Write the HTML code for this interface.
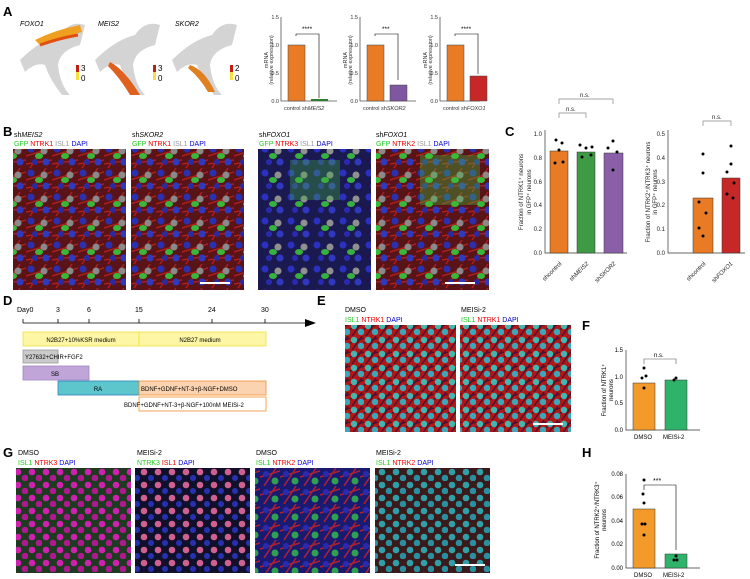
<!DOCTYPE html>
<html><head><meta charset="utf-8"><style>
body{margin:0;background:#fff}
svg{display:block;font-family:"Liberation Sans",Arial,sans-serif}
</style></head><body>
<svg width="750" height="579" viewBox="0 0 750 579" xmlns="http://www.w3.org/2000/svg">
<defs>
<pattern id="pB" width="26" height="24" patternUnits="userSpaceOnUse">
<rect width="26" height="24" fill="#5a1418"/>
<path d="M0 12 L26 4 M4 24 L20 0 M0 20 L26 16" stroke="#b82020" stroke-width="1.2"/>
<circle cx="5" cy="5" r="3.5" fill="#2a30b0"/><circle cx="20" cy="18" r="3.5" fill="#3038c0"/><circle cx="9" cy="18" r="3" fill="#2a2aa0"/>
<circle cx="18" cy="7" r="3.5" fill="#8a8a8a"/>
<ellipse cx="13" cy="12" rx="4" ry="3" fill="#38b838"/></pattern>
<pattern id="pB3" width="26" height="24" patternUnits="userSpaceOnUse">
<rect width="26" height="24" fill="#1a1a50"/>
<circle cx="5" cy="5" r="3.5" fill="#2a30c0"/><circle cx="20" cy="18" r="3.5" fill="#3038c0"/><circle cx="9" cy="18" r="3" fill="#2a2ab0"/>
<circle cx="18" cy="7" r="3.5" fill="#909090"/>
<ellipse cx="13" cy="12" rx="4" ry="3" fill="#38b040"/></pattern>
<pattern id="pE" width="14" height="14" patternUnits="userSpaceOnUse">
<rect width="14" height="14" fill="#b01818"/><path d="M0 7 L14 2 M2 14 L12 0" stroke="#501030" stroke-width="1.5"/>
<circle cx="4" cy="4" r="3.2" fill="#40b8b0"/><circle cx="11" cy="10" r="3.2" fill="#3aa8b8"/></pattern>
<pattern id="pG1" width="14" height="13" patternUnits="userSpaceOnUse">
<rect width="14" height="13" fill="#1e3a20"/><circle cx="4" cy="4" r="3.3" fill="#d020b0"/><circle cx="11" cy="10" r="3.3" fill="#b01890"/></pattern>
<pattern id="pG2" width="14" height="13" patternUnits="userSpaceOnUse">
<rect width="14" height="13" fill="#10102a"/><circle cx="4" cy="4" r="3.3" fill="#d06090"/><circle cx="11" cy="10" r="3" fill="#2830b0"/></pattern>
<pattern id="pG3" width="20" height="18" patternUnits="userSpaceOnUse">
<rect width="20" height="18" fill="#1a1a70"/><path d="M0 9 L20 3 M4 18 L16 0" stroke="#b02030" stroke-width="1.5"/>
<circle cx="6" cy="6" r="3" fill="#2a2ab0"/><circle cx="15" cy="13" r="3.5" fill="#30a050"/></pattern>
<pattern id="pG4" width="14" height="13" patternUnits="userSpaceOnUse">
<rect width="14" height="13" fill="#3a1a1a"/><circle cx="4" cy="4" r="3.3" fill="#30a0a8"/><circle cx="11" cy="10" r="3.3" fill="#2890a0"/></pattern>
</defs>
<g font-size="7" fill="#000">
<!-- A -->
<text x="3" y="16" font-size="13" font-weight="bold">A</text>
<g font-style="italic" font-size="7"><text x="20" y="26">FOXO1</text><text x="98" y="26">MEIS2</text><text x="175" y="26">SKOR2</text></g>
<g fill="#d4d4d4">
<path d="M20 60 Q40 40 60 35 Q70 20 85 25 L80 45 Q60 50 58 65 Q60 85 70 95 L62 95 Q50 80 45 65 Q35 62 25 72 Z"/>
<path d="M95 60 Q115 40 135 35 Q145 20 160 25 L155 45 Q135 50 133 65 Q135 85 145 95 L137 95 Q125 80 120 65 Q110 62 100 72 Z"/>
<path d="M172 60 Q192 40 212 35 Q222 20 237 25 L232 45 Q212 50 210 65 Q212 85 222 95 L214 95 Q202 80 197 65 Q187 62 177 72 Z"/>
</g>
<path d="M35 40 Q55 30 80 25 L82 32 Q60 38 40 45 Z" fill="#f0a020"/><path d="M40 45 Q60 38 78 35" stroke="#e05010" stroke-width="3" fill="none"/>
<path d="M110 62 Q125 70 140 95 L130 95 Q120 78 108 66 Z" fill="#e06020"/>
<path d="M190 65 Q205 70 215 92 L208 92 Q200 78 188 68Z" fill="#e08020"/>
<rect x="76" y="65" width="3" height="14" fill="#c02010"/><rect x="76" y="72" width="3" height="8" fill="#f8e040"/><text x="81" y="71" font-size="8">3</text><text x="81" y="81" font-size="8">0</text>
<rect x="153" y="65" width="3" height="14" fill="#c02010"/><rect x="153" y="72" width="3" height="8" fill="#f8e040"/><text x="158" y="71" font-size="8">3</text><text x="158" y="81" font-size="8">0</text>
<rect x="230" y="65" width="3" height="14" fill="#c02010"/><rect x="230" y="72" width="3" height="8" fill="#f8e040"/><text x="235" y="71" font-size="8">2</text><text x="235" y="81" font-size="8">0</text>
<!-- A bar charts -->
<g font-size="5.5" fill="#333">
<g transform="translate(281,0)">
<path d="M0 17 V101 H56" stroke="#555" fill="none" stroke-width=".8"/>
<text x="-2" y="19" text-anchor="end">1.5</text><text x="-2" y="47" text-anchor="end">1.0</text><text x="-2" y="75" text-anchor="end">0.5</text><text x="-2" y="103" text-anchor="end">0.0</text>
<rect x="7" y="45" width="17" height="56" fill="#e87b24" stroke="#444" stroke-width=".5"/>
<rect x="30" y="99" width="17" height="2" fill="#2e7d32"/>
<path d="M15 36 V34 H38 V98" stroke="#000" fill="none" stroke-width=".6"/><text x="21" y="31" font-size="6.5" fill="#000">****</text>
<text x="3" y="110">control sh<tspan font-style="italic">MEIS2</tspan></text>
<text transform="translate(-13,60) rotate(-90)" text-anchor="middle">mRNA</text><text transform="translate(-8,60) rotate(-90)" text-anchor="middle">(relative expression)</text>
</g>
<g transform="translate(360,0)">
<path d="M0 17 V101 H56" stroke="#555" fill="none" stroke-width=".8"/>
<text x="-2" y="19" text-anchor="end">1.5</text><text x="-2" y="47" text-anchor="end">1.0</text><text x="-2" y="75" text-anchor="end">0.5</text><text x="-2" y="103" text-anchor="end">0.0</text>
<rect x="7" y="45" width="17" height="56" fill="#e87b24" stroke="#444" stroke-width=".5"/>
<rect x="30" y="85" width="17" height="16" fill="#7e57a0" stroke="#444" stroke-width=".5"/>
<path d="M15 36 V34 H38 V80" stroke="#000" fill="none" stroke-width=".6"/><text x="22" y="31" font-size="6.5" fill="#000">***</text>
<text x="3" y="110">control sh<tspan font-style="italic">SKOR2</tspan></text>
<text transform="translate(-13,60) rotate(-90)" text-anchor="middle">mRNA</text><text transform="translate(-8,60) rotate(-90)" text-anchor="middle">(relative expression)</text>
</g>
<g transform="translate(440,0)">
<path d="M0 17 V101 H40" stroke="#555" fill="none" stroke-width=".8"/>
<text x="-2" y="19" text-anchor="end">1.5</text><text x="-2" y="47" text-anchor="end">1.0</text><text x="-2" y="75" text-anchor="end">0.5</text><text x="-2" y="103" text-anchor="end">0.0</text>
<rect x="7" y="45" width="17" height="56" fill="#e87b24" stroke="#444" stroke-width=".5"/>
<rect x="30" y="76" width="17" height="25" fill="#c62828" stroke="#444" stroke-width=".5"/>
<path d="M15 36 V34 H38 V74" stroke="#000" fill="none" stroke-width=".6"/><text x="21" y="31" font-size="6.5" fill="#000">****</text>
<text x="3" y="110">control sh<tspan font-style="italic">FOXO1</tspan></text>
<text transform="translate(-13,60) rotate(-90)" text-anchor="middle">mRNA</text><text transform="translate(-8,60) rotate(-90)" text-anchor="middle">(relative expression)</text>
</g>
</g>
<!-- B -->
<text x="3" y="136" font-size="13" font-weight="bold">B</text>
<text x="14" y="137">sh<tspan font-style="italic">MEIS2</tspan></text>
<text x="132" y="137">sh<tspan font-style="italic">SKOR2</tspan></text>
<text x="259" y="137">sh<tspan font-style="italic">FOXO1</tspan></text>
<text x="376" y="137">sh<tspan font-style="italic">FOXO1</tspan></text>
<g font-size="7">
<text x="14" y="146"><tspan fill="#2c2">GFP</tspan> <tspan fill="#e00">NTRK1</tspan> <tspan fill="#999">ISL1</tspan> <tspan fill="#00c">DAPI</tspan></text>
<text x="132" y="146"><tspan fill="#2c2">GFP</tspan> <tspan fill="#e00">NTRK1</tspan> <tspan fill="#999">ISL1</tspan> <tspan fill="#00c">DAPI</tspan></text>
<text x="259" y="146"><tspan fill="#2c2">GFP</tspan> <tspan fill="#e00">NTRK3</tspan> <tspan fill="#999">ISL1</tspan> <tspan fill="#00c">DAPI</tspan></text>
<text x="376" y="146"><tspan fill="#2c2">GFP</tspan> <tspan fill="#e00">NTRK2</tspan> <tspan fill="#999">ISL1</tspan> <tspan fill="#00c">DAPI</tspan></text>
</g>
<rect x="13" y="149" width="113" height="141" fill="url(#pB)"/>
<rect x="131" y="149" width="113" height="141" fill="url(#pB)"/>
<rect x="258" y="149" width="113" height="141" fill="url(#pB3)"/>
<rect x="376" y="149" width="113" height="141" fill="url(#pB)"/>
<rect x="290" y="160" width="50" height="40" fill="#40b040" opacity=".35"/>
<rect x="420" y="155" width="60" height="50" fill="#40c040" opacity=".35"/>
<rect x="200" y="282" width="30" height="2" fill="#fff"/><rect x="445" y="282" width="30" height="2" fill="#fff"/>
<!-- C -->
<text x="505" y="136" font-size="13" font-weight="bold">C</text>
<g font-size="6" fill="#222">
<path d="M545 130 V253 H627" stroke="#333" fill="none" stroke-width=".7"/>
<text x="542" y="136" text-anchor="end">1.0</text><text x="542" y="160" text-anchor="end">0.8</text><text x="542" y="184" text-anchor="end">0.6</text><text x="542" y="207" text-anchor="end">0.4</text><text x="542" y="231" text-anchor="end">0.2</text><text x="542" y="255" text-anchor="end">0.0</text>
<rect x="550" y="151" width="18" height="102" fill="#e87b24" stroke="#333" stroke-width=".5"/>
<rect x="577" y="152" width="18" height="101" fill="#3f9a45" stroke="#333" stroke-width=".5"/>
<rect x="604" y="153" width="19" height="100" fill="#8a5fa8" stroke="#333" stroke-width=".5"/>
<path d="M559 118 V113 H586 V118 M559 104 V99 H613 V104" stroke="#888" fill="none" stroke-width=".7"/>
<text x="566" y="111">n.s.</text><text x="580" y="97">n.s.</text>
<text transform="translate(562,264) rotate(-45)" text-anchor="end">shcontrol</text>
<text transform="translate(589,264) rotate(-45)" text-anchor="end">sh<tspan font-style="italic">MEIS2</tspan></text>
<text transform="translate(616,264) rotate(-45)" text-anchor="end">sh<tspan font-style="italic">SKOR2</tspan></text>
<text transform="translate(523,192) rotate(-90)" text-anchor="middle">Fraction of NTRK1⁺ neurons</text>
<text transform="translate(531,192) rotate(-90)" text-anchor="middle">in GFP⁺ neurons</text>
<path d="M668 130 V253 H745" stroke="#333" fill="none" stroke-width=".7"/>
<text x="665" y="136" text-anchor="end">0.5</text><text x="665" y="160" text-anchor="end">0.4</text><text x="665" y="184" text-anchor="end">0.3</text><text x="665" y="207" text-anchor="end">0.2</text><text x="665" y="231" text-anchor="end">0.1</text><text x="665" y="255" text-anchor="end">0.0</text>
<rect x="693" y="198" width="20" height="55" fill="#e87b24" stroke="#333" stroke-width=".5"/>
<rect x="722" y="178" width="18" height="75" fill="#c62828" stroke="#333" stroke-width=".5"/>
<path d="M703 126 V121 H731 V126" stroke="#888" fill="none" stroke-width=".7"/><text x="712" y="119">n.s.</text>
<text transform="translate(706,264) rotate(-45)" text-anchor="end">shcontrol</text>
<text transform="translate(733,264) rotate(-45)" text-anchor="end">sh<tspan font-style="italic">FOXO1</tspan></text>
<text transform="translate(650,192) rotate(-90)" text-anchor="middle">Fraction of NTRK2⁺/NTRK3⁺ neurons</text>
<text transform="translate(657,192) rotate(-90)" text-anchor="middle">in GFP⁺ neurons</text>
</g>
<g fill="#000"><circle cx="556" cy="140" r="1.5"/><circle cx="562" cy="143" r="1.5"/><circle cx="555" cy="163" r="1.5"/><circle cx="563" cy="162" r="1.5"/><circle cx="559" cy="150" r="1.5"/>
<circle cx="580" cy="145" r="1.5"/><circle cx="586" cy="148" r="1.5"/><circle cx="592" cy="147" r="1.5"/><circle cx="582" cy="157" r="1.5"/><circle cx="591" cy="155" r="1.5"/>
<circle cx="613" cy="141" r="1.5"/><circle cx="608" cy="148" r="1.5"/><circle cx="617" cy="152" r="1.5"/><circle cx="613" cy="170" r="1.5"/>
<circle cx="703" cy="154" r="1.5"/><circle cx="703" cy="173" r="1.5"/><circle cx="699" cy="202" r="1.5"/><circle cx="706" cy="213" r="1.5"/><circle cx="699" cy="228" r="1.5"/><circle cx="703" cy="236" r="1.5"/>
<circle cx="731" cy="146" r="1.5"/><circle cx="731" cy="164" r="1.5"/><circle cx="727" cy="172" r="1.5"/><circle cx="734" cy="183" r="1.5"/><circle cx="727" cy="194" r="1.5"/><circle cx="733" cy="198" r="1.5"/></g>
<!-- D -->
<text x="3" y="305" font-size="13" font-weight="bold">D</text>
<g font-size="7">
<text x="17" y="312">Day0</text><text x="56" y="312">3</text><text x="87" y="312">6</text><text x="135" y="312">15</text><text x="208" y="312">24</text><text x="261" y="312">30</text>
</g>
<path d="M23 323 H310 M23 319 V323 M58 319 V323 M89 319 V323 M139 319 V323 M212 319 V323 M265 319 V323" stroke="#000" fill="none" stroke-width=".8"/>
<path d="M305 319 L316 323 L305 327 Z" fill="#000"/>
<g font-size="6" stroke-width=".8">
<rect x="23" y="332" width="116" height="14" fill="#fdf6a5" stroke="#f0e040"/><text x="81" y="342" text-anchor="middle">N2B27+10%KSR medium</text>
<rect x="139" y="332" width="127" height="14" fill="#fdf6a5" stroke="#f0e040"/><text x="200" y="342" text-anchor="middle">N2B27 medium</text>
<rect x="23" y="350" width="35" height="13" fill="#cacaca" stroke="#999"/><text x="25" y="359">Y27632+CHIR+FGF2</text>
<rect x="23" y="366" width="66" height="14" fill="#c0a6d8" stroke="#9f86c0"/><text x="55" y="376" text-anchor="middle">SB</text>
<rect x="58" y="381" width="81" height="14" fill="#5cc6cc" stroke="#2a80c0"/><text x="98" y="391" text-anchor="middle">RA</text>
<rect x="139" y="381" width="127" height="14" fill="#fbd3b0" stroke="#f09030"/><text x="141" y="391">BDNF+GDNF+NT-3+β-NGF+DMSO</text>
<rect x="139" y="397" width="127" height="14" fill="#fff" stroke="#f09030"/><text x="124" y="407">BDNF+GDNF+NT-3+β-NGF+100nM MEISi-2</text>
</g>
<!-- E -->
<text x="317" y="305" font-size="13" font-weight="bold">E</text>
<text x="345" y="312">DMSO</text><text x="461" y="312">MEISi-2</text>
<text x="345" y="322"><tspan fill="#2c2">ISL1</tspan> <tspan fill="#e00">NTRK1</tspan> <tspan fill="#00c">DAPI</tspan></text>
<text x="461" y="322"><tspan fill="#2c2">ISL1</tspan> <tspan fill="#e00">NTRK1</tspan> <tspan fill="#00c">DAPI</tspan></text>
<rect x="345" y="325" width="111" height="107" fill="url(#pE)"/>
<rect x="460" y="325" width="111" height="107" fill="url(#pE)"/>
<rect x="533" y="423" width="30" height="2" fill="#fff"/>
<!-- F -->
<text x="582" y="330" font-size="13" font-weight="bold">F</text>
<g font-size="6">
<path d="M626 350 V430 H700" stroke="#333" fill="none" stroke-width=".7"/>
<text x="623" y="352" text-anchor="end">1.5</text><text x="623" y="379" text-anchor="end">1.0</text><text x="623" y="405" text-anchor="end">0.5</text><text x="623" y="432" text-anchor="end">0.0</text>
<rect x="633" y="383" width="22" height="47" fill="#f29a2a" stroke="#333" stroke-width=".5"/>
<rect x="665" y="380" width="22" height="50" fill="#2fb36b" stroke="#333" stroke-width=".5"/>
<path d="M644 364 V359 H676 V364" stroke="#555" fill="none" stroke-width=".6"/><text x="654" y="357">n.s.</text>
<text x="634" y="439">DMSO</text><text x="663" y="439">MEISi-2</text>
<text transform="translate(606,390) rotate(-90)" text-anchor="middle">Fraction of NTRK1⁺</text>
<text transform="translate(613,390) rotate(-90)" text-anchor="middle">neurons</text>
</g>
<g fill="#000"><circle cx="644" cy="368" r="1.5"/><circle cx="642" cy="378" r="1.5"/><circle cx="644" cy="388" r="1.5"/><circle cx="646" cy="376" r="1.5"/><circle cx="676" cy="378" r="1.5"/><circle cx="674" cy="380" r="1.5"/></g>
<!-- G -->
<text x="3" y="457" font-size="13" font-weight="bold">G</text>
<text x="18" y="455">DMSO</text><text x="137" y="455">MEISi-2</text><text x="256" y="455">DMSO</text><text x="376" y="455">MEISi-2</text>
<text x="18" y="465"><tspan fill="#2c2">ISL1</tspan> <tspan fill="#e00">NTRK3</tspan> <tspan fill="#00c">DAPI</tspan></text>
<text x="137" y="465"><tspan fill="#2c2">NTRK3</tspan> <tspan fill="#e00">ISL1</tspan> <tspan fill="#00c">DAPI</tspan></text>
<text x="256" y="465"><tspan fill="#2c2">ISL1</tspan> <tspan fill="#e00">NTRK2</tspan> <tspan fill="#00c">DAPI</tspan></text>
<text x="376" y="465"><tspan fill="#2c2">ISL1</tspan> <tspan fill="#e00">NTRK2</tspan> <tspan fill="#00c">DAPI</tspan></text>
<rect x="16" y="468" width="115" height="105" fill="url(#pG1)"/>
<rect x="135" y="468" width="115" height="105" fill="url(#pG2)"/>
<rect x="255" y="468" width="115" height="105" fill="url(#pG3)"/>
<rect x="375" y="468" width="115" height="105" fill="url(#pG4)"/>
<rect x="455" y="564" width="30" height="2" fill="#fff"/>
<!-- H -->
<text x="582" y="457" font-size="13" font-weight="bold">H</text>
<g font-size="6">
<path d="M626 474 V568 H700" stroke="#333" fill="none" stroke-width=".7"/>
<text x="623" y="476" text-anchor="end">0.08</text><text x="623" y="499" text-anchor="end">0.06</text><text x="623" y="523" text-anchor="end">0.04</text><text x="623" y="546" text-anchor="end">0.02</text><text x="623" y="570" text-anchor="end">0.00</text>
<rect x="633" y="509" width="22" height="59" fill="#f29a2a" stroke="#333" stroke-width=".5"/>
<rect x="665" y="554" width="22" height="14" fill="#2fb36b" stroke="#333" stroke-width=".5"/>
<path d="M644 490 V485 H676 V550" stroke="#000" fill="none" stroke-width=".6"/><text x="653" y="483" font-size="7">***</text>
<text x="634" y="577">DMSO</text><text x="663" y="577">MEISi-2</text>
<text transform="translate(599,520) rotate(-90)" text-anchor="middle">Fraction of NTRK2⁺/NTRK3⁺</text>
<text transform="translate(606,520) rotate(-90)" text-anchor="middle">neurons</text>
</g>
<g fill="#000"><circle cx="644" cy="480" r="1.5"/><circle cx="643" cy="494" r="1.5"/><circle cx="644" cy="503" r="1.5"/><circle cx="642" cy="524" r="1.5"/><circle cx="645" cy="524" r="1.5"/><circle cx="644" cy="535" r="1.5"/><circle cx="676" cy="556" r="1.5"/><circle cx="674" cy="560" r="1.5"/><circle cx="677" cy="560" r="1.5"/></g>
</g>
</svg>
</body></html>
